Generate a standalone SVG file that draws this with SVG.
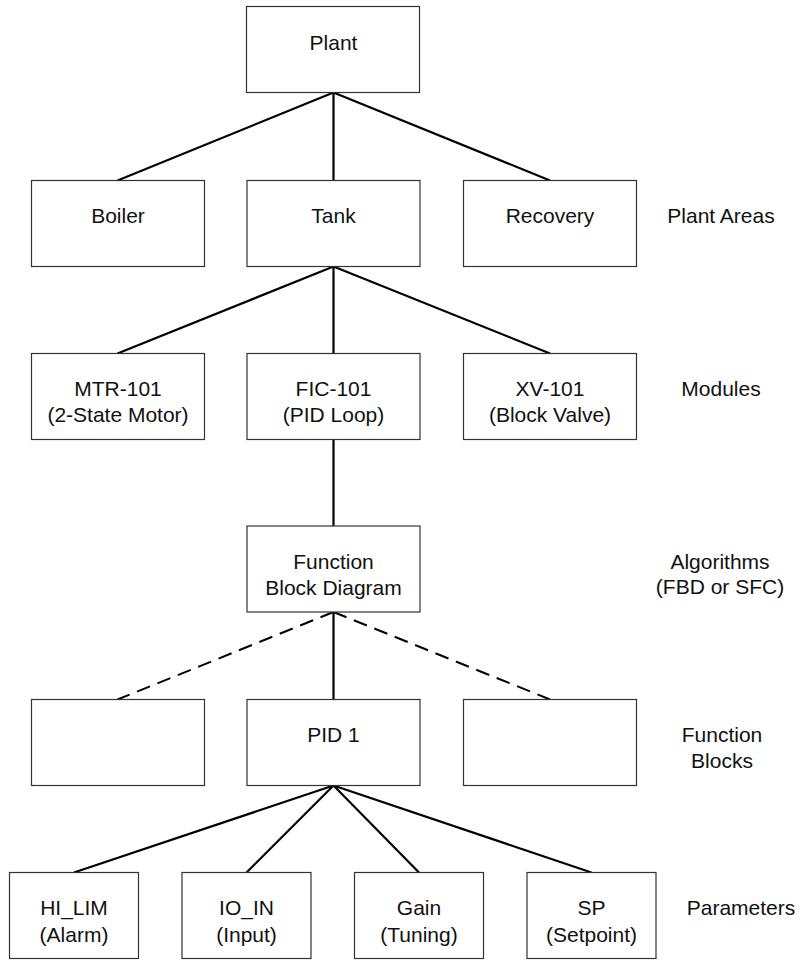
<svg xmlns="http://www.w3.org/2000/svg" width="803" height="960" viewBox="0 0 803 960">
<style>
.box{fill:#fff;stroke:#333;stroke-width:1.2}
text{font-family:"Liberation Sans",Arial,sans-serif;font-size:21px;fill:#111;text-anchor:middle}
.lbl{text-anchor:middle}
.conn{stroke:#000;stroke-width:2.2;fill:none}
.dash{stroke:#000;stroke-width:2;fill:none;stroke-dasharray:14 8}
</style>
<rect width="803" height="960" fill="#fff"/>
<g id="connectors">
<line class="conn" x1="333.5" y1="92.5" x2="117.5" y2="180.5"/>
<line class="conn" x1="333.5" y1="92.5" x2="333.5" y2="180.5"/>
<line class="conn" x1="333.5" y1="92.5" x2="550" y2="180.5"/>
<line class="conn" x1="333.5" y1="266.5" x2="117.5" y2="353.5"/>
<line class="conn" x1="333.5" y1="266.5" x2="333.5" y2="353.5"/>
<line class="conn" x1="333.5" y1="266.5" x2="550" y2="353.5"/>
<line class="conn" x1="333.5" y1="439.5" x2="333.5" y2="526"/>
<line class="dash" x1="333.5" y1="612" x2="117.5" y2="699.5"/>
<line class="conn" x1="333.5" y1="612" x2="333.5" y2="699.5"/>
<line class="dash" x1="333.5" y1="612" x2="550" y2="699.5"/>
<line class="conn" x1="333.5" y1="785.5" x2="74" y2="872.5"/>
<line class="conn" x1="333.5" y1="785.5" x2="246.5" y2="872.5"/>
<line class="conn" x1="333.5" y1="785.5" x2="419" y2="872.5"/>
<line class="conn" x1="333.5" y1="785.5" x2="591.5" y2="872.5"/>
</g>
<g id="plant"><rect class="box" x="246.5" y="6.5" width="173" height="86"/><text x="333.5" y="50">Plant</text></g>
<g id="boiler"><rect class="box" x="31.5" y="180.5" width="173" height="86"/><text x="118" y="223">Boiler</text></g>
<g id="tank"><rect class="box" x="247" y="180.5" width="173" height="86"/><text x="333.5" y="223">Tank</text></g>
<g id="recovery"><rect class="box" x="463.5" y="180.5" width="173" height="86"/><text x="550" y="223">Recovery</text></g>
<g id="mtr101"><rect class="box" x="31.5" y="353.5" width="173" height="86"/><text x="118" y="396">MTR-101</text><text x="118" y="422">(2-State Motor)</text></g>
<g id="fic101"><rect class="box" x="247" y="353.5" width="173" height="86"/><text x="333.5" y="396">FIC-101</text><text x="333.5" y="422">(PID Loop)</text></g>
<g id="xv101"><rect class="box" x="463.5" y="353.5" width="173" height="86"/><text x="550" y="396">XV-101</text><text x="550" y="422">(Block Valve)</text></g>
<g id="fbd"><rect class="box" x="247" y="526" width="173" height="86"/><text x="333.5" y="568.5">Function</text><text x="333.5" y="594.5">Block Diagram</text></g>
<g id="fb-left"><rect class="box" x="31.5" y="699.5" width="173" height="86"/></g>
<g id="pid1"><rect class="box" x="247" y="699.5" width="173" height="86"/><text x="333.5" y="742">PID 1</text></g>
<g id="fb-right"><rect class="box" x="463.5" y="699.5" width="173" height="86"/></g>
<g id="hi_lim"><rect class="box" x="9.5" y="872.5" width="129" height="86"/><text x="74" y="915">HI_LIM</text><text x="74" y="941.5">(Alarm)</text></g>
<g id="io_in"><rect class="box" x="182" y="872.5" width="129" height="86"/><text x="246.5" y="915">IO_IN</text><text x="246.5" y="941.5">(Input)</text></g>
<g id="gain"><rect class="box" x="354.5" y="872.5" width="129" height="86"/><text x="419" y="915">Gain</text><text x="419" y="941.5">(Tuning)</text></g>
<g id="sp"><rect class="box" x="527" y="872.5" width="129" height="86"/><text x="591.5" y="915">SP</text><text x="591.5" y="941.5">(Setpoint)</text></g>
<g id="labels">
<text class="lbl" x="721" y="223">Plant Areas</text>
<text class="lbl" x="721" y="396">Modules</text>
<text class="lbl" x="720" y="568.5">Algorithms</text>
<text class="lbl" x="720" y="594">(FBD or SFC)</text>
<text class="lbl" x="722" y="742">Function</text>
<text class="lbl" x="722" y="768">Blocks</text>
<text class="lbl" x="741" y="915">Parameters</text>
</g>
</svg>
